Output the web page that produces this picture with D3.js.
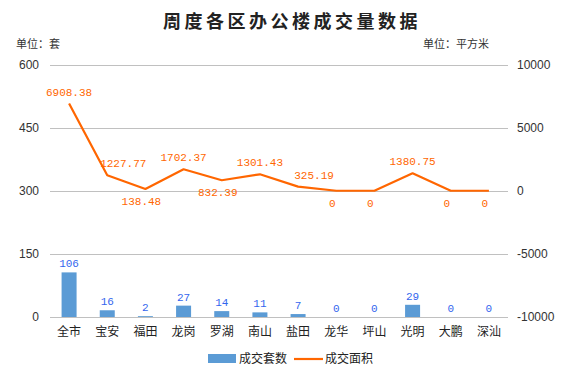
<!DOCTYPE html>
<html>
<head>
<meta charset="utf-8">
<script src="https://cdn.jsdelivr.net/npm/d3@7"></script>
<style>
  body { margin: 0; background: #fff; }
  svg { display: block; }
</style>
</head>
<body>
<svg id="chart" width="581" height="372"></svg>
<script>
// data
let districts = ["全市","宝安","福田","龙岗","罗湖","南山","盐田","龙华","坪山","光明","大鹏","深汕"];
let counts = [106,16,2,27,14,11,7,0,0,29,0,0];          // 成交套数
let areas = [6908.38,1227.77,138.48,1702.37,832.39,1301.43,325.19,0,0,1380.75,0,0]; // 成交面积
let leftTicks = [0,150,300,450,600];
let rightTicks = [-10000,-5000,0,5000,10000];

let svg = d3.select("#chart");
let plotLeft = 50, plotRight = 508, plotTop = 64.5, plotBottom = 317;
let cjk = "'Noto Sans CJK SC', sans-serif";

let xScale = d3.scaleBand().domain(districts).range([plotLeft, plotRight]);
let yLeft = d3.scaleLinear().domain([0, 600]).range([plotBottom, plotTop]);
let yRight = d3.scaleLinear().domain([-10000, 10000]).range([plotBottom, plotTop]);
let cx = (i) => xScale(districts[i]) + xScale.bandwidth() / 2;

// title + units
svg.append("text")
    .attr("x", 292).attr("y", 28)
    .attr("text-anchor", "middle")
    .style("font-family", cjk).style("font-size", "18px").style("font-weight", "bold")
    .style("letter-spacing", "3.5px")
    .attr("fill", "#222")
    .text("周度各区办公楼成交量数据");
svg.append("text")
    .attr("x", 16).attr("y", 48)
    .style("font-family", cjk).style("font-size", "11px").attr("fill", "#333")
    .text("单位：套");
svg.append("text")
    .attr("x", 423).attr("y", 48)
    .style("font-family", cjk).style("font-size", "11px").attr("fill", "#333")
    .text("单位：平方米");

// gridlines
svg.append("g").selectAll("line")
    .data(leftTicks)
    .enter().append("line")
    .attr("x1", plotLeft).attr("x2", plotRight)
    .attr("y1", d => Math.round(yLeft(d)) + 0.5)
    .attr("y2", d => Math.round(yLeft(d)) + 0.5)
    .attr("stroke", "#c0c0c0");

// left axis
let gLeft = svg.append("g").attr("transform", "translate(" + plotLeft + ",0)")
    .call(d3.axisLeft(yLeft).tickValues(leftTicks).tickSize(0).tickPadding(11));
gLeft.select(".domain").remove();
gLeft.selectAll("text").style("font-family", "'Liberation Sans', Arial, sans-serif")
    .style("font-size", "12px").attr("fill", "#333");

// right axis
let gRight = svg.append("g").attr("transform", "translate(" + plotRight + ",0)")
    .call(d3.axisRight(yRight).tickValues(rightTicks).tickFormat(d => String(d))
        .tickSize(0).tickPadding(9));
gRight.select(".domain").remove();
gRight.selectAll("text").style("font-family", "'Liberation Sans', Arial, sans-serif")
    .style("font-size", "12px").attr("fill", "#333");

// category axis
let gX = svg.append("g").attr("transform", "translate(0," + plotBottom + ")")
    .call(d3.axisBottom(xScale).tickSize(0).tickPadding(10));
gX.select(".domain").remove();
gX.selectAll("text").style("font-family", cjk).style("font-size", "12px").attr("fill", "#222");

// bars
let barW = 15;
svg.append("g").selectAll("rect")
    .data(counts)
    .enter().append("rect")
    .attr("x", (d, i) => cx(i) - barW / 2)
    .attr("y", d => yLeft(d))
    .attr("width", barW)
    .attr("height", d => plotBottom - yLeft(d))
    .attr("fill", "#5b9bd5");

svg.append("g").selectAll("text")
    .data(counts)
    .enter().append("text")
    .attr("x", (d, i) => cx(i))
    .attr("y", d => yLeft(d) - 5)
    .attr("text-anchor", "middle")
    .style("font-family", "'Liberation Mono', monospace").style("font-size", "11px")
    .attr("fill", "#3366ee")
    .text(d => d);

// line
let valueLine = d3.line()
    .x((d, i) => cx(i))
    .y(d => yRight(d));
svg.append("path")
    .datum(areas)
    .attr("d", valueLine)
    .attr("fill", "none")
    .attr("stroke", "#ff6600")
    .attr("stroke-width", 2.2)
    .attr("stroke-linejoin", "round");

// line labels: below local minima, above otherwise;
// nudged right when the line comes down into the point so it clears the line
function isLow(i) {
    let p = i > 0 ? areas[i - 1] : Infinity;
    let n = i < areas.length - 1 ? areas[i + 1] : Infinity;
    return areas[i] <= p && areas[i] <= n;
}
function nudge(i) {
    if (isLow(i)) return -4;
    if (i > 0 && areas[i - 1] > areas[i]) return 16;
    return 0;
}
svg.append("g").selectAll("text")
    .data(areas)
    .enter().append("text")
    .attr("x", (d, i) => cx(i) + nudge(i))
    .attr("y", (d, i) => isLow(i) ? yRight(d) + 16 : yRight(d) - 8)
    .attr("text-anchor", "middle")
    .style("font-family", "'Liberation Mono', monospace").style("font-size", "11px")
    .attr("fill", "#ff6600")
    .text(d => d);

// legend
let lg = svg.append("g");
lg.append("rect").attr("x", 208).attr("y", 354).attr("width", 28).attr("height", 9).attr("fill", "#5b9bd5");
lg.append("text").attr("x", 239).attr("y", 363)
    .style("font-family", cjk).style("font-size", "12px").attr("fill", "#222").text("成交套数");
lg.append("line").attr("x1", 294).attr("x2", 323).attr("y1", 359).attr("y2", 359)
    .attr("stroke", "#ff6600").attr("stroke-width", 2.2);
lg.append("text").attr("x", 325).attr("y", 363)
    .style("font-family", cjk).style("font-size", "12px").attr("fill", "#222").text("成交面积");
</script>
</body>
</html>
